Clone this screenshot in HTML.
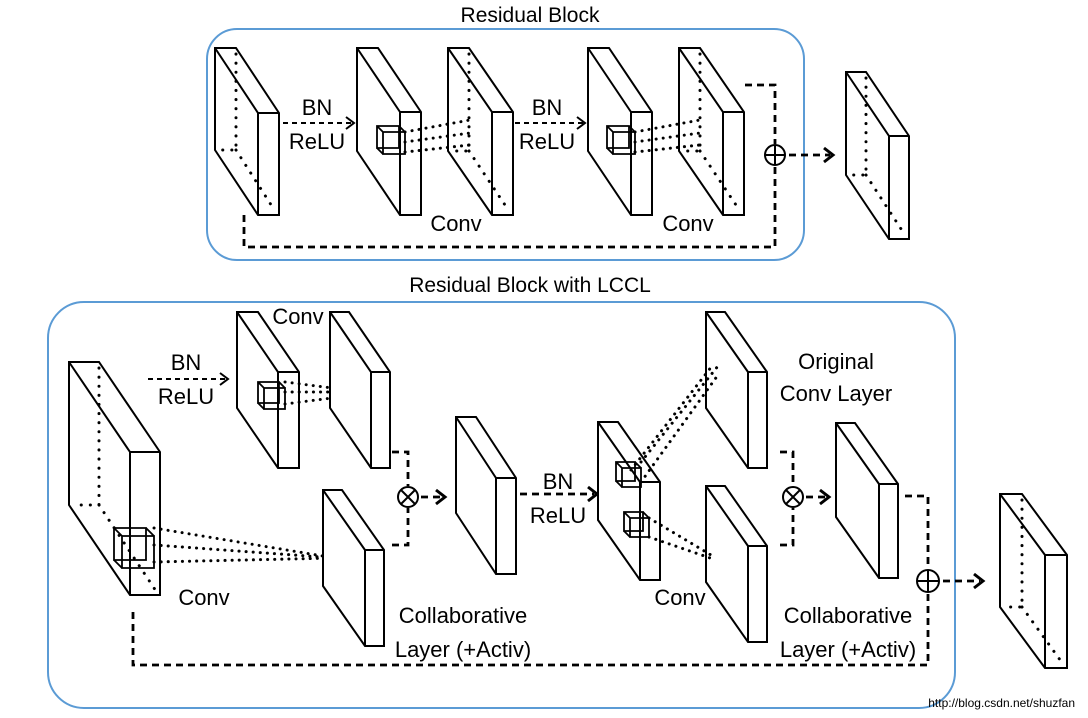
<!DOCTYPE html>
<html><head><meta charset="utf-8"><style>
html,body{margin:0;padding:0;background:#fff;width:1088px;height:718px;overflow:hidden}
svg{display:block}
text{font-family:"Liberation Sans",Arial,sans-serif;fill:#000}
</style></head><body>
<svg id="s" width="1088" height="718" viewBox="0 0 1088 718" xmlns="http://www.w3.org/2000/svg">
<rect x="207" y="29" width="597" height="231" rx="30" fill="none" stroke="#5b9bd5" stroke-width="2"/>
<rect x="48" y="302" width="907" height="406" rx="36" fill="none" stroke="#5b9bd5" stroke-width="2"/>
<text x="530" y="22" font-size="21" text-anchor="middle">Residual Block</text>
<text x="530" y="292" font-size="21" text-anchor="middle">Residual Block with LCCL</text>
<g font-size="22" text-anchor="middle">
<text x="317" y="115">BN</text><text x="317" y="149">ReLU</text>
<text x="547" y="115">BN</text><text x="547" y="149">ReLU</text>
<text x="456" y="231">Conv</text><text x="688" y="231">Conv</text>
<text x="298" y="324">Conv</text>
<text x="186" y="370">BN</text><text x="186" y="404">ReLU</text>
<text x="204" y="605">Conv</text>
<text x="463" y="623">Collaborative</text><text x="463" y="657">Layer (+Activ)</text>
<text x="558" y="489">BN</text><text x="558" y="523">ReLU</text>
<text x="680" y="605">Conv</text>
<text x="836" y="369">Original</text><text x="836" y="401">Conv Layer</text>
<text x="848" y="623">Collaborative</text><text x="848" y="657">Layer (+Activ)</text>
</g>
<text x="1075" y="707" font-size="12" text-anchor="end">http://blog.csdn.net/shuzfan</text>
<g id="g" fill="none" stroke="#000" stroke-width="2"></g>
</svg>
<script>
var out='';
function slab(x,y,w,dx,dy,h,dots){
 out+='<path fill="#fff" d="M'+x+' '+y+'L'+(x+w)+' '+y+'L'+(x+w+dx)+' '+(y+dy)+'L'+(x+w+dx)+' '+(y+dy+h)+'L'+(x+dx)+' '+(y+dy+h)+'L'+x+' '+(y+h)+'Z"/>';
 out+='<path d="M'+x+' '+y+'L'+(x+dx)+' '+(y+dy)+'L'+(x+dx)+' '+(y+dy+h)+'M'+(x+dx)+' '+(y+dy)+'L'+(x+w+dx)+' '+(y+dy)+'"/>';
 if(dots){var bx=x+w, by=y+h;
  out+='<path stroke-dasharray="0.1 9" stroke-linecap="round" stroke-width="3" d="M'+bx+' '+(y+6)+'L'+bx+' '+by+'L'+(x+4)+' '+by+'M'+bx+' '+by+'L'+(x+w+dx-4)+' '+(y+dy+h-4)+'"/>';}
}
function cube(x,y,s,o){
 out+='<path stroke-width="1.8" fill="none" d="M'+(x-o)+' '+(y-o)+'h'+s+'v'+s+'h'+(-s)+'z M'+x+' '+y+'h'+s+'v'+s+'h'+(-s)+'z M'+(x-o)+' '+(y-o)+'L'+x+' '+y+'M'+(x-o+s)+' '+(y-o)+'L'+(x+s)+' '+y+'M'+(x-o)+' '+(y-o+s)+'L'+x+' '+(y+s)+'"/>';
}
function dot(d){out+='<path stroke-dasharray="0.1 7" stroke-linecap="round" stroke-width="3" d="'+d+'"/>';}
function dash(d){out+='<path stroke-dasharray="7 5" stroke-width="2.8" d="'+d+'"/>';}
function arrow(x1,x2,y){dash('M'+x1+' '+y+'L'+(x2-3)+' '+y);out+='<path stroke-width="3" d="M'+(x2-9)+' '+(y-7)+'L'+x2+' '+y+'L'+(x2-9)+' '+(y+7)+'"/>';}
function arrowt(x1,x2,y){out+='<path stroke-dasharray="5 4" stroke-width="2" d="M'+x1+' '+y+'L'+(x2-2)+' '+y+'"/><path stroke-width="2" d="M'+(x2-8)+' '+(y-6)+'L'+x2+' '+y+'L'+(x2-8)+' '+(y+6)+'"/>';}
function otimes(x,y,r){out+='<circle cx="'+x+'" cy="'+y+'" r="'+r+'" fill="#fff"/><path d="M'+(x-r*.7)+' '+(y-r*.7)+'L'+(x+r*.7)+' '+(y+r*.7)+'M'+(x+r*.7)+' '+(y-r*.7)+'L'+(x-r*.7)+' '+(y+r*.7)+'"/>';}
function oplus(x,y,r){out+='<circle cx="'+x+'" cy="'+y+'" r="'+r+'" fill="#fff"/><path d="M'+(x-r)+' '+y+'L'+(x+r)+' '+y+'M'+x+' '+(y-r)+'L'+x+' '+(y+r)+'"/>';}
// top block
slab(215,48,21,43,65,102,true);
slab(357,48,21,43,64,103,false);
slab(448,48,21,44,64,103,true);
slab(588,48,21,43,64,103,false);
slab(679,48,21,44,64,103,true);
slab(846,72,20,43,64,103,true);
cube(383,132,22,6);
dot('M405 132L470 120M405 152L470 145M405 142L470 133');
cube(613,132,22,6);
dot('M635 132L700 120M635 152L700 145M635 142L700 133');
arrowt(283,354,123);arrowt(515,585,123);
dash('M745 85L775 85L775 144');
oplus(775,155,10);
arrow(789,833,155);
dash('M244 215L244 247L775 247L775 166');
// bottom block
slab(69,362,30,61,90,143,true);
cube(122,536,32,8);
dot('M154 528L335 558M154 562L335 558M154 545L335 558');
slab(237,312,21,41,60,96,false);
cube(264,388,21,6);
dot('M285 382L332 388M285 404L332 398M285 392L332 392');
slab(330,312,19,41,60,96,false);
slab(323,490,19,42,60,96,false);
slab(456,417,20,40,61,96,false);
arrowt(148,228,379);
dash('M392 452L408 452L408 486');dash('M392 545L408 545L408 508');
otimes(408,497,10);arrow(421,445,497);
arrow(520,597,494);
slab(598,422,20,42,60,98,false);
slab(706,312,19,42,60,96,false);
slab(706,486,19,42,60,96,false);
cube(622,468,19,6);cube(630,518,19,6);
dot('M641 462L718 366M641 482L718 375M631 470L712 366');
dot('M649 518L716 558M649 537L716 560');
slab(836,423,19,43,61,94,false);
dash('M780 452L793 452L793 486');dash('M780 545L793 545L793 508');
otimes(793,497,10);arrow(806,829,497);
dash('M905 496L928 496L928 569');
oplus(928,581,11);
arrow(943,983,581);
dash('M133 612L133 665L928 665L928 593');
slab(1000,494,22,45,61,113,true);
document.getElementById('g').innerHTML=out;
</script>
</body></html>
